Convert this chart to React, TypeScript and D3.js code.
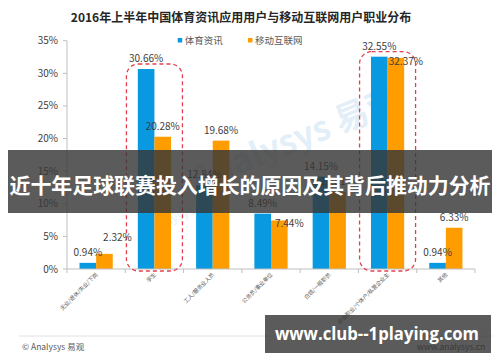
import React from "react";
import * as d3 from "d3";

const title = "2016年上半年中国体育资讯应用用户与移动互联网用户职业分布";
const categories = [
  "无业/退休/失业/下岗",
  "学生",
  "工人/服务业人员",
  "公务员/事业单位",
  "白领/一般职员",
  "自由职业/个体户/私营企业主",
  "其他",
];
const seriesNames = ["体育资讯", "移动互联网"];
const sportsValues = [0.94, 30.66, 12.84, 8.49, 14.15, 32.55, 0.94];
const mobileValues = [2.32, 20.28, 19.68, 7.44, 11.81, 32.37, 6.33];
const yTicks = [0, 5, 10, 15, 20, 25, 30, 35];
const highlighted = ["学生", "自由职业/个体户/私营企业主"];
const bannerText = "近十年足球联赛投入增长的原因及其背后推动力分析";
const siteText = "www.club--1playing.com";

const W = 500;
const H = 362;
const FONT = "'Noto Sans CJK SC', 'Noto Sans', sans-serif";
const BLUE = "#0899e0";
const ORANGE = "#ff9c00";

// label nudges (layout only)
const labelNudge: Record<string, { dx: number; dy: number }> = {
  "1-0": { dx: 13, dy: -6 },
  "1-3": { dx: 10, dy: 13.5 },
  "1-5": { dx: 10, dy: 14 },
};

export default function App() {
  const x = d3
    .scaleBand<string>()
    .domain(categories)
    .range([67, 475])
    .paddingInner(0.43)
    .paddingOuter(0.215);
  const xs = d3.scaleBand<number>().domain([0, 1]).range([0, x.bandwidth()]);
  const y = d3.scaleLinear().domain([0, 35]).range([269, 40.7]);
  const series = [sportsValues, mobileValues];
  const colors = [BLUE, ORANGE];
  const step = x.step();
  const boundaries = d3.range(categories.length + 1).map((i) => 67 + i * step);

  return (
    <svg
      width={W}
      height={H}
      style={{ position: "absolute", left: 0, top: 0, background: "#fff" }}
      fontFamily={FONT}
    >
      <rect width={W} height={H} fill="#fff" />
      {/* title */}
      <text x={241} y={22} textAnchor="middle" fontSize={12} fontWeight="bold" fill="#262626">
        {title}
      </text>
      {/* legend */}
      {seriesNames.map((n, i) => (
        <g key={n} transform={`translate(${177.7 + i * 70.3},0)`}>
          <rect x={0} y={38} width={4.5} height={4.5} fill={colors[i]} />
          <text x={7} y={44} fontSize={9.5} fill="#595959">
            {n}
          </text>
        </g>
      ))}
      {/* watermark */}
      <g transform="translate(300,150) rotate(-22)" opacity={0.22}>
        <text x={0} y={0} textAnchor="middle" fontSize={34} fontWeight="bold" fill="#7fb8e0">
          Analysys 易观
        </text>
      </g>
      <g transform="translate(185,218) rotate(-22)" opacity={0.18}>
        <text x={0} y={0} textAnchor="middle" fontSize={12} fill="#7fb8e0">
          Analysys 易观
        </text>
      </g>
      {/* y axis */}
      <line x1={67} x2={67} y1={y(35)} y2={y(0)} stroke="#bfbfbf" />
      {yTicks.map((t) => (
        <g key={t}>
          <line x1={63} x2={67} y1={y(t)} y2={y(t)} stroke="#bfbfbf" />
          <text x={58} y={y(t) + 3.5} textAnchor="end" fontSize={10} fill="#404040">
            {t}%
          </text>
        </g>
      ))}
      {/* bars */}
      {series.map((vals, si) =>
        vals.map((v, ci) => (
          <rect
            key={`${si}-${ci}`}
            x={(x(categories[ci]) as number) + (xs(si) as number)}
            y={y(v)}
            width={xs.bandwidth()}
            height={y(0) - y(v)}
            fill={colors[si]}
          />
        ))
      )}
      {/* x axis */}
      <line x1={67} x2={475} y1={y(0)} y2={y(0)} stroke="#bfbfbf" />
      {boundaries.map((b, i) => (
        <line key={i} x1={b} x2={b} y1={y(0)} y2={y(0) + 4} stroke="#bfbfbf" />
      ))}
      {categories.map((c) => {
        const cx = (x(c) as number) + x.bandwidth() / 2;
        return (
          <text
            key={c}
            transform={`translate(${cx + 2},${y(0) + 6}) rotate(-45)`}
            textAnchor="end"
            fontSize={5.5}
            fill="#595959"
          >
            {c}
          </text>
        );
      })}
      {/* highlight boxes */}
      {highlighted.map((c) => {
        const ci = categories.indexOf(c);
        const cx = (x(c) as number) + x.bandwidth() / 2;
        const top = y(Math.max(sportsValues[ci], mobileValues[ci])) - 5;
        return (
          <rect
            key={c}
            x={cx - 28}
            y={top}
            width={56}
            height={271 - top}
            rx={12}
            ry={12}
            fill="none"
            stroke="#e2404f"
            strokeWidth={1.3}
            strokeDasharray="4,3"
          />
        );
      })}
      {/* value labels */}
      {series.map((vals, si) =>
        vals.map((v, ci) => {
          const nudge = labelNudge[`${si}-${ci}`] || { dx: 0, dy: 0 };
          const cx = (x(categories[ci]) as number) + (xs(si) as number) + xs.bandwidth() / 2;
          return (
            <text
              key={`l${si}-${ci}`}
              x={cx + nudge.dx}
              y={y(v) - 7 + nudge.dy}
              textAnchor="middle"
              fontSize={10}
              fill="#404040"
            >
              {v.toFixed(2)}%
            </text>
          );
        })
      )}
      {/* footer */}
      <line x1={19} x2={492} y1={336} y2={336} stroke="#e0e0e0" />
      <text x={22} y={350} fontSize={8.5} fill="#595959">
        © Analysys 易观
      </text>
      <text x={417} y={350} fontSize={8.5} fill="#404040">
        www.analysys.cn
      </text>
      {/* overlay banner */}
      <rect x={8} y={150} width={484} height={63} fill="rgba(55,55,55,0.82)" />
      <text
        x={250}
        y={192.5}
        textAnchor="middle"
        fontSize={21}
        fontWeight="bold"
        fill="#fff"
        textLength={481}
        lengthAdjust="spacingAndGlyphs"
      >
        {bannerText}
      </text>
      <rect x={265} y={315} width={226} height={38} fill="rgba(55,55,55,0.82)" />
      <text
        x={377}
        y={340}
        textAnchor="middle"
        fontSize={18}
        fontWeight="bold"
        fill="#fff"
        fontFamily="'Open Sans', 'DejaVu Sans', sans-serif"
        textLength={204}
        lengthAdjust="spacingAndGlyphs"
      >
        {siteText}
      </text>
    </svg>
  );
}
